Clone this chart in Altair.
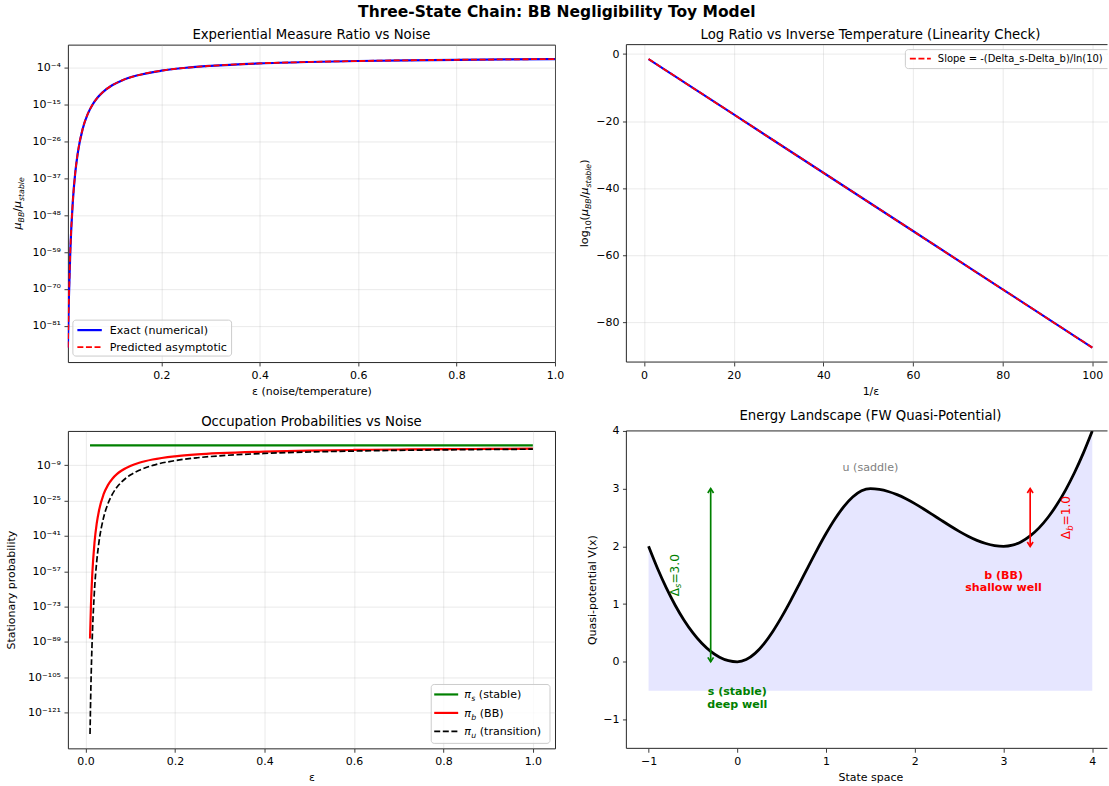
import altair as alt
import pandas as pd

# ---------------- data ----------------
EPS = [0.01, 0.012, 0.015, 0.02, 0.025, 0.03, 0.04, 0.05, 0.06, 0.07, 0.08, 0.1,
       0.12, 0.15, 0.2, 0.25, 0.3, 0.4, 0.5, 0.6, 0.7, 0.8, 0.9, 1.0]
# log10 of mu_BB / mu_stable
RATIO_EXACT_LOG10 = [-87.49, -73.01, -58.54, -44.06, -35.37, -29.58, -22.35, -18.00, -15.11,
                     -13.04, -11.49, -9.32, -7.87, -6.42, -4.97, -4.10, -3.53, -2.80, -2.37,
                     -2.08, -1.87, -1.72, -1.60, -1.50]
RATIO_PRED_LOG10 = [-87.49, -73.01, -58.54, -44.06, -35.37, -29.58, -22.35, -18.00, -15.11,
                    -13.04, -11.49, -9.32, -7.87, -6.42, -4.97, -4.10, -3.53, -2.80, -2.37,
                    -2.08, -1.87, -1.72, -1.60, -1.50]

INV_EPS = [1, 20, 40, 60, 80, 100]
LOGRATIO_EXACT = [-1.50, -18.00, -35.37, -52.75, -70.12, -87.49]
LOGRATIO_PRED = [-1.50, -18.00, -35.37, -52.75, -70.12, -87.49]

# log10 of stationary probabilities
PI_S_LOG10 = [0, 0, 0, 0, 0, 0, 0, 0, 0, 0, 0, 0, 0, 0, 0, 0, 0,
              -0.001, -0.002, -0.005, -0.008, -0.012, -0.017, -0.022]
PI_B_LOG10 = [-87.49, -73.01, -58.54, -44.06, -35.37, -29.58, -22.35, -18.00, -15.11,
              -13.04, -11.49, -9.32, -7.87, -6.42, -4.97, -4.10, -3.53, -2.80, -2.37,
              -2.09, -1.88, -1.73, -1.62, -1.52]
PI_U_LOG10 = [-130.69, -108.98, -87.26, -65.55, -52.52, -43.83, -32.97, -26.46, -22.12,
              -19.01, -16.69, -13.43, -11.26, -9.09, -6.91, -5.61, -4.74, -3.66, -3.01,
              -2.58, -2.27, -2.05, -1.87, -1.74]

X_STATE = [-1.0, -0.9, -0.8, -0.7, -0.6, -0.5, -0.4, -0.3, -0.2, -0.1, 0.0,
           0.1, 0.2, 0.3, 0.4, 0.5, 0.6, 0.7, 0.8, 0.9, 1.0, 1.1, 1.2, 1.3, 1.4, 1.5,
           1.6, 1.7, 1.8, 1.9, 2.0, 2.1, 2.2, 2.3, 2.4, 2.5, 2.6, 2.7, 2.8, 2.9, 3.0,
           3.1, 3.2, 3.3, 3.4, 3.5, 3.6, 3.7, 3.8, 3.9, 4.0]
V_STATE = [2.00, 1.62, 1.28, 0.98, 0.72, 0.50, 0.32, 0.18, 0.08, 0.02, 0.00,
           0.038, 0.146, 0.312, 0.526, 0.778, 1.056, 1.350, 1.650, 1.944, 2.222,
           2.474, 2.688, 2.854, 2.962, 3.000,
           2.987, 2.951, 2.896, 2.825, 2.741, 2.648, 2.550, 2.450, 2.352, 2.259,
           2.175, 2.104, 2.049, 2.013, 2.000,
           2.02, 2.08, 2.18, 2.32, 2.50, 2.72, 2.98, 3.28, 3.62, 4.00]

Y1_TICKS = [-4, -15, -26, -37, -48, -59, -70, -81]
Y3_TICKS = [-9, -25, -41, -57, -73, -89, -105, -121]

# ---------------- styling helpers ----------------
FONT = "DejaVu Sans"
WL, H = 488, 318
WR = 482            # right column is cut by the window edge, as in the reference
FULLR = 489         # full (uncut) width of the right-column axes
ONE = pd.DataFrame({"k": [0]})
BLUE, RED, GREEN, BLACK, GRAY = "#0000ff", "#ff0000", "#008000", "#000000", "#808080"
SPINE = "#262626"
DASH = [6, 2.6]

CW = {' ': .318, '(': .390, ')': .390, '/': .337, '=': .838, '.': .318, '-': .361, '_': .5,
      'a': .613, 'b': .635, 'c': .550, 'd': .635, 'e': .615, 'g': .635, 'i': .278, 'l': .278,
      'n': .634, 'o': .612, 'r': .411, 's': .521, 't': .392, 'u': .634, 'B': .686,
      'μ': .636, 'π': .640, 'Δ': .684}
for _d in "0123456789":
    CW[_d] = .636


def tw(s, size):
    return sum(CW.get(c, .6) for c in s) * size


SUP = str.maketrans("-0123456789", "⁻⁰¹²³⁴⁵⁶⁷⁸⁹")


def pow10_expr(exps):
    expr = "''"
    for e in reversed(exps):
        expr = f"(round(log(datum.value)/LN10) == {e}) ? '10{str(e).translate(SUP)}' : {expr}"
    return expr


def rich(pieces, X, Y, angle=0, color=BLACK, center=True, base_dy=0.0):
    """pieces: (text, size, style, weight, shift)"""
    widths = [tw(p[0], p[1]) for p in pieces]
    off = -sum(widths) / 2 if center else 0.0
    layers = []
    for (t, sz, style, weight, shift), w in zip(pieces, widths):
        lead = len(t) - len(t.lstrip(" "))
        layers.append(
            alt.Chart(ONE).mark_text(
                text=t.lstrip(" "), font=FONT, fontSize=sz, fontStyle=style, fontWeight=weight,
                align="left", baseline="alphabetic", angle=angle, dx=off + lead * .318 * sz,
                dy=base_dy + shift, color=color,
            ).encode(x=X, y=Y)
        )
        off += w
    return layers


def legend(box, rows, fs):
    x0, y0, x1, y1 = box
    layers = [alt.Chart(ONE).mark_rect(fill="white", fillOpacity=0.8, stroke="#cccccc",
                                       strokeWidth=1, cornerRadius=3, clip=True)
              .encode(x=alt.value(x0), x2=alt.value(x1), y=alt.value(y0), y2=alt.value(y1))]
    for ly, lx0, lx1, color, width, dash, tx, pieces in rows:
        kw = {"strokeDash": dash} if dash else {}
        layers.append(alt.Chart(ONE).mark_rule(color=color, strokeWidth=width, **kw)
                      .encode(x=alt.value(lx0), x2=alt.value(lx1), y=alt.value(ly)))
        layers += rich(pieces, alt.value(tx), alt.value(ly), center=False, base_dy=fs * 0.36)
    return layers


def open_frame(w):
    """top, left and bottom spines; the right one lies beyond the window edge"""
    return [
        alt.Chart(ONE).mark_rule(color=SPINE, strokeWidth=1).encode(
            x=alt.value(0), x2=alt.value(w), y=alt.value(0)),
        alt.Chart(ONE).mark_rule(color=SPINE, strokeWidth=1).encode(
            x=alt.value(0), x2=alt.value(w), y=alt.value(H)),
        alt.Chart(ONE).mark_rule(color=SPINE, strokeWidth=1).encode(
            x=alt.value(0), y=alt.value(0), y2=alt.value(H)),
    ]


def ptitle(text, dx=0):
    return alt.TitleParams(text, font=FONT, fontSize=13.3, fontWeight="normal",
                           anchor="middle", offset=3, color=BLACK, dx=dx)


SUBSZ = 7.8
RDX = (FULLR - WR) / 2

# ---------------- panel 1 ----------------
df1 = pd.DataFrame({"eps": EPS,
                    "exact": [10 ** v for v in RATIO_EXACT_LOG10],
                    "pred": [10 ** v for v in RATIO_PRED_LOG10]})
ax1x = alt.Axis(values=[0.2, 0.4, 0.6, 0.8, 1.0], format=".1f", title="ε (noise/temperature)")
ax1y = alt.Axis(values=[10.0 ** e for e in Y1_TICKS], labelExpr=pow10_expr(Y1_TICKS), title=None)
xsc1 = alt.Scale(domain=[0.01, 1.0], nice=False)
ysc1 = alt.Scale(type="log", domain=[10 ** -91.79, 10 ** 2.80], nice=False)
p1_exact = alt.Chart(df1).mark_line(color=BLUE, strokeWidth=2.2, clip=True, interpolate="monotone").encode(
    x=alt.X("eps:Q", scale=xsc1, axis=ax1x), y=alt.Y("exact:Q", scale=ysc1, axis=ax1y))
p1_pred = alt.Chart(df1).mark_line(color=RED, strokeWidth=1.8, strokeDash=DASH, clip=True, interpolate="monotone").encode(
    x=alt.X("eps:Q", scale=xsc1, axis=ax1x), y=alt.Y("pred:Q", scale=ysc1, axis=ax1y))
ytitle1 = rich([("μ", 11.1, "italic", "normal", 0), ("BB", SUBSZ, "italic", "normal", 2.6),
                ("/", 11.1, "normal", "normal", 0), ("μ", 11.1, "italic", "normal", 0),
                ("stable", SUBSZ, "italic", "normal", 2.6)],
               alt.value(-51), alt.value(H / 2), angle=270, base_dy=4.0)
leg1 = legend((5, 276, 164, 312), [
    (286, 9.5, 34, BLUE, 2.2, None, 42, [("Exact (numerical)", 11.1, "normal", "normal", 0)]),
    (303, 9.5, 34, RED, 1.8, DASH, 42, [("Predicted asymptotic", 11.1, "normal", "normal", 0)]),
], 11.1)
p1 = alt.layer(p1_exact, p1_pred, *ytitle1, *leg1).properties(
    width=WL, height=H, title=ptitle("Experiential Measure Ratio vs Noise"))

# ---------------- panel 2 ----------------
df2 = pd.DataFrame({"inv": INV_EPS, "exact": LOGRATIO_EXACT, "pred": LOGRATIO_PRED})
ax2x = alt.Axis(values=[0, 20, 40, 60, 80, 100], format="d", title="1/ε", titleX=FULLR / 2)
ax2y = alt.Axis(values=[0, -20, -40, -60, -80], format="d", title=None)
x2lo, x2hi = -3.95, 104.95
xsc2 = alt.Scale(domain=[x2lo, x2lo + (x2hi - x2lo) * WR / FULLR], nice=False)
ysc2 = alt.Scale(domain=[-91.79, 2.80], nice=False)
p2_exact = alt.Chart(df2).mark_line(color=BLUE, strokeWidth=2.2, clip=True).encode(
    x=alt.X("inv:Q", scale=xsc2, axis=ax2x), y=alt.Y("exact:Q", scale=ysc2, axis=ax2y))
p2_pred = alt.Chart(df2).mark_line(color=RED, strokeWidth=1.8, strokeDash=DASH, clip=True).encode(
    x=alt.X("inv:Q", scale=xsc2, axis=ax2x), y=alt.Y("pred:Q", scale=ysc2, axis=ax2y))
ytitle2 = rich([("log", 11.1, "normal", "normal", 0), ("10", SUBSZ, "normal", "normal", 2.6),
                ("(", 11.1, "normal", "normal", 0), ("μ", 11.1, "italic", "normal", 0),
                ("BB", SUBSZ, "italic", "normal", 2.6), ("/", 11.1, "normal", "normal", 0),
                ("μ", 11.1, "italic", "normal", 0), ("stable", SUBSZ, "italic", "normal", 2.6),
                (")", 11.1, "normal", "normal", 0)],
               alt.value(-42.5), alt.value(H / 2), angle=270, base_dy=4.0)
leg2 = legend((279.5, 5, 490, 24), [
    (14, 284, 305, RED, 1.8, DASH, 312,
     [("Slope = -(Delta_s-Delta_b)/ln(10)", 10, "normal", "normal", 0)]),
], 10)
p2 = alt.layer(p2_exact, p2_pred, *ytitle2, *leg2, *open_frame(WR)).properties(
    width=WR, height=H, title=ptitle("Log Ratio vs Inverse Temperature (Linearity Check)", RDX),
    view=alt.ViewBackground(stroke="transparent"))

# ---------------- panel 3 ----------------
df3 = pd.DataFrame({"eps": EPS,
                    "ps": [10 ** v for v in PI_S_LOG10],
                    "pb": [10 ** v for v in PI_B_LOG10],
                    "pu": [10 ** v for v in PI_U_LOG10]})
ax3x = alt.Axis(values=[0.0, 0.2, 0.4, 0.6, 0.8, 1.0], format=".1f", title="ε")
ax3y = alt.Axis(values=[10.0 ** e for e in Y3_TICKS], labelExpr=pow10_expr(Y3_TICKS),
                title="Stationary probability", titlePadding=11)
xsc3 = alt.Scale(domain=[-0.0395, 1.0495], nice=False)
ysc3 = alt.Scale(type="log", domain=[10 ** -137.22, 10 ** 6.53], nice=False)
p3_s = alt.Chart(df3).mark_line(color=GREEN, strokeWidth=2.2, clip=True).encode(
    x=alt.X("eps:Q", scale=xsc3, axis=ax3x), y=alt.Y("ps:Q", scale=ysc3, axis=ax3y))
p3_b = alt.Chart(df3).mark_line(color=RED, strokeWidth=2.2, clip=True, interpolate="monotone").encode(
    x=alt.X("eps:Q", scale=xsc3, axis=ax3x), y=alt.Y("pb:Q", scale=ysc3, axis=ax3y))
p3_u = alt.Chart(df3).mark_line(color=BLACK, strokeWidth=1.7, strokeDash=DASH, clip=True, interpolate="monotone").encode(
    x=alt.X("eps:Q", scale=xsc3, axis=ax3x), y=alt.Y("pu:Q", scale=ysc3, axis=ax3y))
leg3 = legend((364, 254, 483, 313), [
    (264, 367, 391, GREEN, 2.2, None, 397,
     [("π", 11.1, "italic", "normal", 0), ("s", SUBSZ, "italic", "normal", 2.6),
      (" (stable)", 11.1, "normal", "normal", 0)]),
    (282.5, 367, 391, RED, 2.2, None, 397,
     [("π", 11.1, "italic", "normal", 0), ("b", SUBSZ, "italic", "normal", 2.6),
      (" (BB)", 11.1, "normal", "normal", 0)]),
    (301, 367, 391, BLACK, 1.7, DASH, 397,
     [("π", 11.1, "italic", "normal", 0), ("u", SUBSZ, "italic", "normal", 2.6),
      (" (transition)", 11.1, "normal", "normal", 0)]),
], 11.1)
p3 = alt.layer(p3_s, p3_b, p3_u, *leg3).properties(
    width=WL, height=H, title=ptitle("Occupation Probabilities vs Noise"))

# ---------------- panel 4 ----------------
df4 = pd.DataFrame({"x": X_STATE, "v": V_STATE})
ax4x = alt.Axis(values=[-1, 0, 1, 2, 3, 4], format="d", title="State space", grid=False,
                titleX=FULLR / 2)
ax4y = alt.Axis(values=[-1, 0, 1, 2, 3, 4], format="d", title="Quasi-potential V(x)", grid=False)
x4lo, x4hi = -1.25, 4.25
xsc4 = alt.Scale(domain=[x4lo, x4lo + (x4hi - x4lo) * WR / FULLR], nice=False)
ysc4 = alt.Scale(domain=[-1.5, 4.0], nice=False)
p4_area = alt.Chart(df4).mark_area(color="#e6e6ff", opacity=1, interpolate="monotone").encode(
    x=alt.X("x:Q", scale=xsc4, axis=ax4x), y=alt.Y("v:Q", scale=ysc4, axis=ax4y), y2=alt.datum(-0.5))
p4_line = alt.Chart(df4).mark_line(color=BLACK, strokeWidth=2.8, interpolate="monotone", clip=True).encode(
    x=alt.X("x:Q", scale=xsc4, axis=ax4x), y=alt.Y("v:Q", scale=ysc4, axis=ax4y))


def arrow(xv, ylo, yhi, color):
    rule = alt.Chart(ONE).mark_rule(color=color, strokeWidth=1.7).encode(
        x=alt.datum(xv), y=alt.datum(ylo), y2=alt.datum(yhi))
    up = alt.Chart(ONE).mark_point(shape="M-0.65,1L0,0L0.65,1", filled=False, color=color,
                                   strokeWidth=1.7, size=78, opacity=1).encode(
        x=alt.datum(xv), y=alt.datum(yhi))
    dn = alt.Chart(ONE).mark_point(shape="M-0.65,-1L0,0L0.65,-1", filled=False, color=color,
                                   strokeWidth=1.7, size=78, opacity=1).encode(
        x=alt.datum(xv), y=alt.datum(ylo))
    return [rule, up, dn]


def label(text, xv, yv, color, weight="normal", size=11.1, baseline="middle"):
    return alt.Chart(ONE).mark_text(text=text, font=FONT, fontSize=size, fontWeight=weight,
                                    color=color, align="center", baseline=baseline).encode(
        x=alt.datum(xv), y=alt.datum(yv))


p4_texts = [
    label("u (saddle)", 1.5, 3.3, GRAY, baseline="alphabetic"),
    label("s (stable)", 0.0, -0.52, GREEN, "bold"),
    label("deep well", 0.0, -0.75, GREEN, "bold"),
    label("b (BB)", 3.0, 1.48, RED, "bold"),
    label("shallow well", 3.0, 1.27, RED, "bold"),
]
d_s = rich([("Δ", 12.2, "normal", "normal", 0), ("s", 8.5, "italic", "normal", 2.8),
            ("=3.0", 12.2, "normal", "normal", 0)],
           alt.datum(-0.71), alt.datum(1.5), angle=270, color=GREEN, base_dy=4.4)
d_b = rich([("Δ", 12.2, "normal", "normal", 0), ("b", 8.5, "italic", "normal", 2.8),
            ("=1.0", 12.2, "normal", "normal", 0)],
           alt.datum(3.70), alt.datum(2.5), angle=270, color=RED, base_dy=4.4)
p4 = alt.layer(p4_area, p4_line, *arrow(-0.3, 0.0, 3.0, GREEN), *arrow(3.3, 2.0, 3.0, RED),
               *p4_texts, *d_s, *d_b, *open_frame(WR)).properties(
    width=WR, height=H, title=ptitle("Energy Landscape (FW Quasi-Potential)", RDX),
    view=alt.ViewBackground(stroke="transparent"))

# ---------------- assemble ----------------
chart = alt.concat(p1, p2, p3, p4, columns=2, spacing={"row": 11, "column": 13.5}).properties(
    padding={"left": 5, "top": 4, "right": 0, "bottom": 0},
    title=alt.TitleParams("Three-State Chain: BB Negligibility Toy Model", font=FONT,
                          fontSize=15.5, fontWeight="bold", anchor="middle", color=BLACK, offset=7),
).configure_view(stroke=SPINE, strokeWidth=1).configure_axis(
    labelFont=FONT, labelFontSize=11, labelColor=BLACK, titleFont=FONT, titleFontSize=11,
    titleFontWeight="normal", titleColor=BLACK, tickColor=SPINE, tickSize=3.9, tickWidth=0.9,
    labelPadding=3.5, domain=False, gridColor="#b0b0b0", gridOpacity=0.3, gridWidth=0.9,
    labelFlush=False, labelOverlap=False, titlePadding=5,
)

chart.save("out.html", embed_options={"renderer": "svg", "actions": False})
